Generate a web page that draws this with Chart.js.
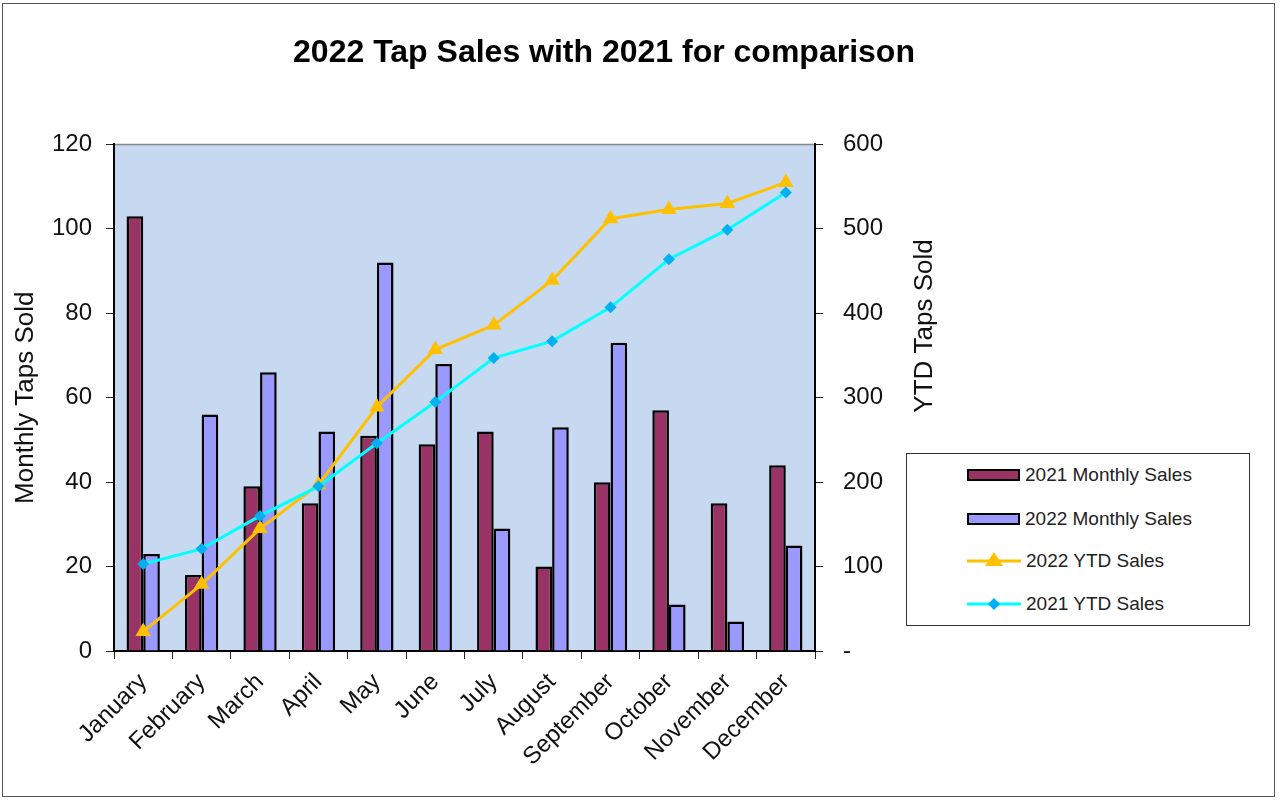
<!DOCTYPE html>
<html>
<head>
<meta charset="utf-8">
<script src="https://cdn.jsdelivr.net/npm/chart.js@4"></script>
<style>
    html, body { margin: 0; padding: 0; background: #fff; }
    #wrap { position: relative; width: 1280px; height: 801px; }
    #frame { position: absolute; left: 2px; top: 3px; width: 1273px; height: 794px; border: 1.5px solid #555; box-sizing: border-box; pointer-events: none; }
    #legend { position: absolute; left: 906px; top: 453px; width: 344px; height: 173px; border: 1.5px solid #333; box-sizing: border-box; background: #fff;
        font-family: "Liberation Sans", Arial, sans-serif; font-size: 19px; color: #222; }
    .item { position: absolute; left: 60px; height: 24px; display: flex; align-items: center; }
    .item span { margin-left: 5px; }
    .box { width: 49px; height: 8px; border: 2.5px solid #000; }
</style>
</head>
<body>
<div id="wrap">
    <canvas id="tapChart" width="1280" height="801"></canvas>
    <div id="frame"></div>
    <div id="legend">
        <div class="item" style="top: 9px;"><div class="box" style="background:#993366"></div><span>2021 Monthly Sales</span></div>
        <div class="item" style="top: 53px;"><div class="box" style="background:#9999FF"></div><span>2022 Monthly Sales</span></div>
        <div class="item" style="top: 95px;"><svg width="54" height="24"><line x1="0" y1="12" x2="54" y2="12" stroke="#FFC000" stroke-width="3"/><polygon points="27,3 36,17 18,17" fill="#FFC000"/></svg><span>2022 YTD Sales</span></div>
        <div class="item" style="top: 138px;"><svg width="54" height="24"><line x1="0" y1="12" x2="54" y2="12" stroke="#00FFFF" stroke-width="3"/><polygon points="27,6 33,12 27,18 21,12" fill="#00B0F0"/></svg><span>2021 YTD Sales</span></div>
    </div>
</div>
<script>
let months = ['January', 'February', 'March', 'April', 'May', 'June', 'July', 'August', 'September', 'October', 'November', 'December'];
let monthly2021 = [103, 18, 39, 35, 51, 49, 52, 20, 40, 57, 35, 44];
let monthly2022 = [23, 56, 66, 52, 92, 68, 29, 53, 73, 11, 7, 25];
let ytd2022 = [23, 79, 145, 197, 289, 357, 386, 439, 512, 523, 530, 555];
let ytd2021 = [103, 121, 160, 195, 246, 295, 347, 367, 407, 464, 499, 543];

let fontFamily = '"Liberation Sans", Arial, sans-serif';

// plot background + right axis title (reads bottom to top like the left one)
let plotExtras = {
    id: 'plotExtras',
    beforeDraw: function (chart) {
        let a = chart.chartArea;
        let c = chart.ctx;
        c.save();
        c.fillStyle = '#C6D9F0';
        c.fillRect(a.left, a.top, a.right - a.left, a.bottom - a.top);
        c.strokeStyle = '#888';
        c.lineWidth = 1.5;
        c.beginPath();
        c.moveTo(a.left, a.top);
        c.lineTo(a.right, a.top);
        c.stroke();
        c.restore();
    },
    afterDraw: function (chart) {
        let c = chart.ctx;
        c.save();
        c.translate(925, 326);
        c.rotate(-Math.PI / 2);
        c.font = '26px ' + fontFamily;
        c.fillStyle = '#111';
        c.textAlign = 'center';
        c.textBaseline = 'middle';
        c.fillText('YTD Taps Sold', 0, 0);
        c.restore();
    }
};

let ctx = document.getElementById('tapChart').getContext('2d');

window.tapChart = new Chart(ctx, {
    type: 'bar',
    data: {
        labels: months,
        datasets: [{
            type: 'line',
            label: '2022 YTD Sales',
            data: ytd2022,
            yAxisID: 'y2',
            borderColor: '#FFC000',
            backgroundColor: '#FFC000',
            borderWidth: 3,
            pointStyle: 'triangle',
            pointRadius: 9,
            pointBorderWidth: 0,
            order: 1
        }, {
            type: 'line',
            label: '2021 YTD Sales',
            data: ytd2021,
            yAxisID: 'y2',
            borderColor: '#00FFFF',
            backgroundColor: '#00B0F0',
            borderWidth: 3,
            pointStyle: 'rectRot',
            pointRadius: 6,
            pointBorderWidth: 0,
            order: 0
        }, {
            label: '2021 Monthly Sales',
            data: monthly2021,
            yAxisID: 'y',
            backgroundColor: '#993366',
            borderColor: '#000',
            borderWidth: 2.5,
            order: 2
        }, {
            label: '2022 Monthly Sales',
            data: monthly2022,
            yAxisID: 'y',
            backgroundColor: '#9999FF',
            borderColor: '#000',
            borderWidth: 2.5,
            order: 3
        }]
    },
    options: {
        responsive: false,
        animation: false,
        layout: { padding: { left: 0, right: 72, top: 0, bottom: 0 } },
        datasets: {
            bar: { categoryPercentage: 0.57, barPercentage: 1 }
        },
        plugins: {
            legend: { display: false },
            tooltip: { enabled: false },
            title: {
                display: true,
                text: '2022 Tap Sales with 2021 for comparison',
                color: '#000',
                font: { family: fontFamily, size: 32, weight: 'bold' },
                padding: { top: 34, bottom: 72 }
            }
        },
        scales: {
            x: {
                grid: { drawOnChartArea: false, color: '#222', tickLength: 8, offset: true },
                border: { color: '#000', width: 2 },
                ticks: { color: '#111', font: { family: fontFamily, size: 24 }, minRotation: 45, maxRotation: 45, padding: 9 },
                afterFit: function (scale) { scale.height = 150; }
            },
            y: {
                position: 'left',
                min: 0,
                max: 120,
                ticks: { stepSize: 20, color: '#111', font: { family: fontFamily, size: 24 }, padding: 14 },
                grid: { drawOnChartArea: false, color: '#222', tickLength: 8 },
                border: { color: '#000', width: 2 },
                title: { display: true, text: 'Monthly Taps Sold', color: '#111', font: { family: fontFamily, size: 26 }, padding: { top: 10 } },
                afterFit: function (scale) { scale.width = 114; }
            },
            y2: {
                position: 'right',
                min: 0,
                max: 600,
                ticks: {
                    stepSize: 100, color: '#111', font: { family: fontFamily, size: 24 }, padding: 20,
                    callback: function (v) { return v === 0 ? '-' : v; }
                },
                grid: { drawOnChartArea: false, color: '#222', tickLength: 8 },
                border: { color: '#000', width: 2 },
                afterFit: function (scale) { scale.width = 393; }
            }
        }
    },
    plugins: [plotExtras]
});
</script>
</body>
</html>
